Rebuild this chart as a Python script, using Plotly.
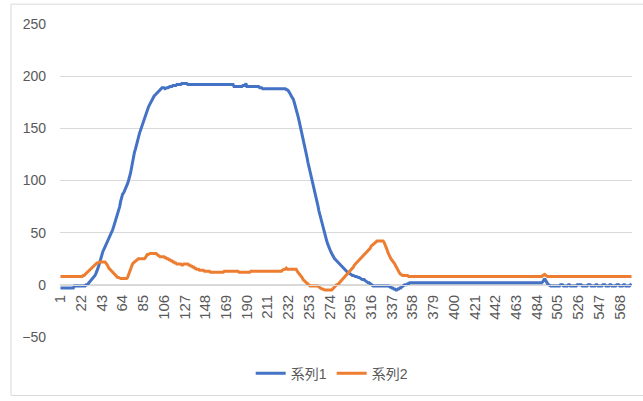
import plotly.graph_objects as go

# ---- data ----
series1_name = "系列1"
series2_name = "系列2"

series1 = [
    -3,-3,-3,-3,-3,-3,-3,-3,-3,-3,-3,-3,-3,-3,-1,-1,-1,-1,-1,-1,
    -1,-1,-1,-1,-1,-1,0,0,1,2,3,4,5,6,8,9,11,13,16,19,
    23,26,29,32,34,36,38,40,42,44,46,49,51,53,56,59,62,65,68,71,
    75,80,85,87,88,90,92,94,97,100,103,107,112,118,124,127,130,133,137,141,
    145,148,151,154,157,160,163,165,167,170,172,174,176,178,179,181,182,183,184,186,
    187,188,188,189,189,189,188,189,189,189,190,190,190,190,191,191,191,191,192,192,
    192,192,192,193,193,193,193,193,193,192,192,192,192,192,192,192,192,192,192,192,
    192,192,192,192,192,192,192,192,192,192,192,192,192,192,192,192,192,192,192,192,
    192,192,192,192,192,192,192,192,192,192,192,192,192,192,192,192,190,190,190,190,
    190,190,190,190,190,191,191,191,193,190,190,190,190,190,190,190,190,190,190,190,
    190,190,189,189,189,188,188,188,188,188,188,188,188,188,188,188,188,188,188,188,
    188,188,188,188,188,188,188,188,188,187,187,186,185,183,181,180,178,175,172,168,
    165,161,157,153,149,145,141,137,132,127,122,117,113,110,107,103,99,94,89,85,
    80,76,71,67,64,60,56,52,48,45,42,39,36,34,32,30,28,27,25,24,
    23,22,20,19,18,17,16,15,14,14,13,12,11,11,10,10,9,9,8,8,
    8,7,7,7,6,6,5,5,5,4,3,3,2,2,1,0,0,-1,-1,-1,
    -1,-1,-1,-1,-1,-1,-1,-1,-1,-1,-1,-1,-1,-1,-2,-2,-3,-3,-4,-4,
    -5,-5,-4,-4,-3,-3,-2,-1,-1,0,0,0,1,1,2,2,2,2,2,2,
    2,2,2,2,2,2,2,2,2,2,2,2,2,2,2,2,2,2,2,2,
    2,2,2,2,2,2,2,2,2,2,2,2,2,2,2,2,2,2,2,2,
    2,2,2,2,2,2,2,2,2,2,2,2,2,2,2,2,2,2,2,2,
    2,2,2,2,2,2,2,2,2,2,2,2,2,2,2,2,2,2,2,2,
    2,2,2,2,2,2,2,2,2,2,2,2,2,2,2,2,2,2,2,2,
    2,2,2,2,2,2,2,2,2,2,2,2,2,2,2,2,2,2,2,2,
    2,2,2,2,2,2,2,2,2,3,5,6,4,2,1,0,-1,-1,-1,-1,
    -1,-1,-1,-1,-1,-1,-1,0,0,0,-1,-1,-1,-1,-1,0,0,-1,-1,-1,
    -1,-1,-1,-1,0,0,0,0,0,-1,-1,-1,-1,-1,-1,0,0,0,-1,-1,
    -1,-1,-1,0,0,-1,-1,-1,-1,-1,0,0,0,-1,-1,-1,-1,0,0,-1,
    -1,-1,-1,-1,0,0,0,-1,-1,-1,-1,0,0,-1,-1,-1,-1,-1,0,-1,
]

series2 = [
    8,8,8,8,8,8,8,8,8,8,8,8,8,8,8,8,8,8,8,8,
    8,8,8,9,9,10,11,12,13,14,15,16,17,18,19,20,20,21,21,22,
    22,22,22,22,22,22,21,20,18,16,15,14,12,11,10,9,9,8,7,7,
    6,6,6,6,6,6,6,6,7,10,13,16,18,20,21,22,23,24,24,25,
    25,25,25,25,25,25,26,28,29,29,30,30,30,30,30,30,30,30,29,28,
    28,27,27,27,27,27,26,26,25,25,24,24,23,23,22,22,21,21,20,20,
    20,20,20,19,19,20,20,20,20,20,19,19,18,18,17,17,16,16,15,15,
    15,14,14,14,14,14,13,13,13,13,13,13,12,12,12,12,12,12,12,12,
    12,12,12,12,12,12,13,13,13,13,13,13,13,13,13,13,13,13,13,13,
    13,12,12,12,12,12,12,12,12,12,12,12,12,13,13,13,13,13,13,13,
    13,13,13,13,13,13,13,13,13,13,13,13,13,13,13,13,13,13,13,13,
    13,13,13,13,13,14,15,15,15,16,15,15,15,15,15,15,15,15,15,15,
    13,12,11,10,8,7,5,4,3,2,1,0,0,-1,-1,-1,-1,-1,-1,-1,
    -1,-1,-2,-3,-3,-4,-4,-5,-5,-5,-5,-5,-5,-5,-5,-5,-4,-3,-2,-1,
    0,0,1,2,3,4,5,6,7,8,9,10,12,13,14,15,16,17,19,20,
    21,22,23,24,25,26,27,28,29,30,31,32,33,34,35,37,38,39,40,41,
    41,42,42,42,42,42,42,42,41,39,37,34,31,28,27,25,24,23,21,20,
    18,16,14,12,11,10,9,9,9,9,9,9,9,8,8,8,8,8,8,8,
    8,8,8,8,8,8,8,8,8,8,8,8,8,8,8,8,8,8,8,8,
    8,8,8,8,8,8,8,8,8,8,8,8,8,8,8,8,8,8,8,8,
    8,8,8,8,8,8,8,8,8,8,8,8,8,8,8,8,8,8,8,8,
    8,8,8,8,8,8,8,8,8,8,8,8,8,8,8,8,8,8,8,8,
    8,8,8,8,8,8,8,8,8,8,8,8,8,8,8,8,8,8,8,8,
    8,8,8,8,8,8,8,8,8,8,8,8,8,8,8,8,8,8,8,8,
    8,8,8,8,8,8,8,8,8,9,10,10,9,8,8,8,8,8,8,8,
    8,8,8,8,8,8,8,8,8,8,8,8,8,8,8,8,8,8,8,8,
    8,8,8,8,8,8,8,8,8,8,8,8,8,8,8,8,8,8,8,8,
    8,8,8,8,8,8,8,8,8,8,8,8,8,8,8,8,8,8,8,8,
    8,8,8,8,8,8,8,8,8,8,8,8,8,8,8,8,8,8,8,8,
]

categories = list(range(1, len(series1) + 1))
tick_labels = ["1", "22", "43", "64", "85", "106", "127", "148", "169", "190",
               "211", "232", "253", "274", "295", "316", "337", "358", "379",
               "400", "421", "442", "463", "484", "505", "526", "547", "568"]
y_ticks = [-50, 0, 50, 100, 150, 200, 250]

assert len(series1) == len(series2) == 580, (len(series1), len(series2))

# ---- figure ----
FONT = "Liberation Sans, Noto Sans CJK JP, sans-serif"
GRID = "#D9D9D9"
TXT = "#595959"

fig = go.Figure()
fig.add_trace(go.Scatter(x=categories, y=series1, mode="lines", name=series1_name,
                         line=dict(color="#4472C4", width=3)))
fig.add_trace(go.Scatter(x=categories, y=series2, mode="lines", name=series2_name,
                         line=dict(color="#ED7D31", width=3)))

W, H = 643, 401
L, R, T, B = 60, 11, 24, 61
pw, ph = W - L - R, H - T - B

fig.update_layout(
    width=W, height=H,
    margin=dict(l=L, r=R, t=T, b=B, pad=0),
    paper_bgcolor="white", plot_bgcolor="white",
    font=dict(family=FONT, color=TXT, size=13),
    showlegend=True,
    legend=dict(orientation="h", x=0.475, xanchor="center",
                y=(T + ph - 377) / ph, yanchor="middle",
                font=dict(size=14, color=TXT), itemwidth=30,
                bgcolor="rgba(0,0,0,0)"),
    xaxis=dict(
        range=[0.5, len(categories) + 0.5],
        tickmode="array",
        tickvals=[int(t) for t in tick_labels],
        ticktext=tick_labels,
        tickangle=-90,
        tickfont=dict(size=15, color=TXT),
        anchor="free", position=50 / 300,
        showgrid=False, zeroline=False,
        showline=True, linecolor=GRID, linewidth=1,
        ticks="",
        ticklabelstandoff=3,
    ),
    yaxis=dict(
        range=[-50, 250],
        tickmode="array", tickvals=y_ticks,
        tickfont=dict(size=14, color=TXT),
        showgrid=True, gridcolor=GRID, gridwidth=1,
        zeroline=False, showline=False, ticks="",
        ticklabelstandoff=13,
    ),
    shapes=[dict(type="rect", xref="paper", yref="paper",
                 x0=(11 - L) / pw, x1=(W + 10 - L) / pw,
                 y0=(T + ph - 399) / ph, y1=(T + ph - 4) / ph,
                 line=dict(color=GRID, width=1), fillcolor="rgba(0,0,0,0)",
                 layer="below")],
)

fig.write_html("out.html")
